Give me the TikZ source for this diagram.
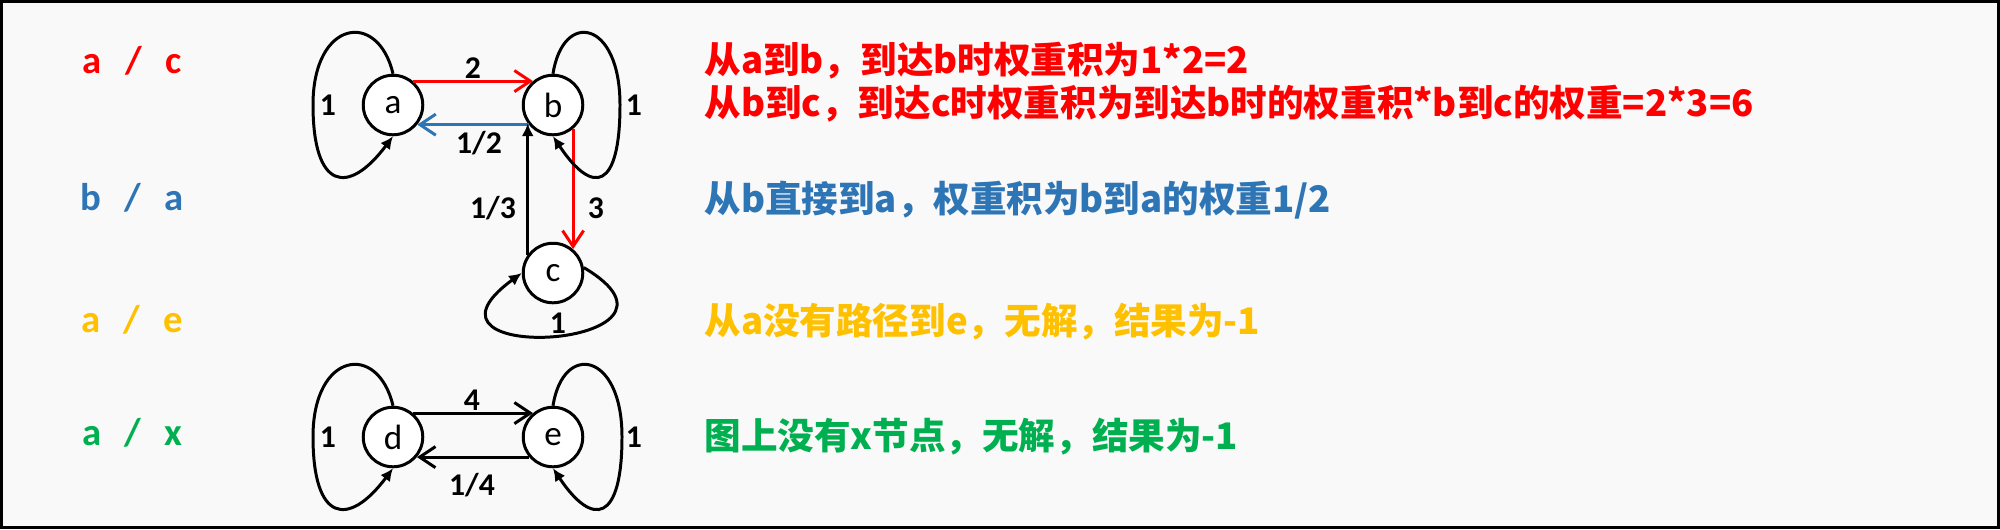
\documentclass[tikz,border=0pt]{standalone}
\usepackage{fontspec}
\setmainfont{Carlito}
\newfontfamily\cjk{Noto Sans CJK SC}
\usetikzlibrary{arrows.meta}
\definecolor{qred}{HTML}{FF0000}
\definecolor{qblue}{HTML}{2E75B6}
\definecolor{qyellow}{HTML}{FFC000}
\definecolor{qgreen}{HTML}{00B050}
\definecolor{bggray}{HTML}{F9F9F9}
\tikzset{
  vertex/.style={circle,draw,fill=white,minimum size=0.595cm,inner sep=0pt,font=\fontsize{10}{11}\selectfont},
  wt/.style={font=\bfseries\fontsize{9}{10}\selectfont,inner sep=0pt},
  query/.style={font=\bfseries\fontsize{11}{12}\selectfont,anchor=base,inner sep=0pt},
  note/.style={font=\cjk\bfseries\fontsize{10.4}{12}\selectfont,anchor=west,inner sep=0pt},
  barb/.style={-{Straight Barb[length=4.5pt,width=6pt]}},
  looptip/.style={-{Latex[length=3.6pt,width=3.4pt]}},
}
\newcommand{\qsep}{\hspace{0.6em}/\hspace{0.6em}}
\begin{document}
\begin{tikzpicture}[x=0.01cm,y=-0.01cm,line width=0.85pt]
\useasboundingbox (0,0) rectangle (2000,529);
\draw[fill=bggray,line width=0.85pt] (1.5,1.5) rectangle (1998.5,527.5);

\node[query,qred] (q1) at (132,73) {a\qsep c};
\node[query,qblue] (q2) at (132,210) {b\qsep a};
\node[query,qyellow] (q3) at (132,332) {a\qsep e};
\node[query,qgreen] (q4) at (132,445) {a\qsep x};

\node[vertex] (a) at (393,105) {a};
\node[vertex] (b) at (553,105) {b};
\node[vertex] (c) at (553,273) {c};
\node[vertex] (d) at (393,437) {d};
\node[vertex] (e) at (553,437) {e};

\draw[barb,qred] (a.50) -- (b.130);
\draw[barb,qblue] (b.-141) -- (a.-39);
\draw[barb,qred] (b.-50) -- (c.50);
\draw[looptip] (c.144) -- (b.-144);
\draw[barb] (d.50) -- (e.130);
\draw[barb] (e.-140) -- (d.-40);
\draw[looptip] (a.north) .. controls +(-15,-64) and +(0,-85) .. +(-80,31)
  .. controls +(0,85) and +(-45,60) .. (a.south);
\draw[looptip] (b.north) .. controls +(10,-64) and +(0,-85) .. +(67,31)
  .. controls +(0,85) and +(40,60) .. (b.south);
\draw[looptip] (c.10) .. controls +(135,80) and +(-130,95) .. (c.west);
\draw[looptip] (d.north) .. controls +(-15,-64) and +(0,-85) .. +(-80,31)
  .. controls +(0,85) and +(-45,60) .. (d.south);
\draw[looptip] (e.north) .. controls +(10,-64) and +(0,-85) .. +(69,31)
  .. controls +(0,85) and +(40,60) .. (e.south);

\node[wt] (w-ab) at (473,68) {2};
\node[wt] (w-ba) at (479,143) {1/2};
\node[wt] (w-bc) at (596,208) {3};
\node[wt] (w-cb) at (493,208) {1/3};
\node[wt] (w-aa) at (328,105) {1};
\node[wt] (w-bb) at (634,105) {1};
\node[wt] (w-cc) at (558,323) {1};
\node[wt] (w-de) at (472,400) {4};
\node[wt] (w-ed) at (472,485) {1/4};
\node[wt] (w-dd) at (328,437) {1};
\node[wt] (w-ee) at (634,437) {1};

\node[note,qred] (n1) at (703,61) {从a到b，到达b时权重积为1*2=2};
\node[note,qred] (n2) at (703,104) {从b到c，到达c时权重积为到达b时的权重积*b到c的权重=2*3=6};
\node[note,qblue] (n3) at (703,200) {从b直接到a，权重积为b到a的权重1/2};
\node[note,qyellow] (n4) at (703,322) {从a没有路径到e，无解，结果为-1};
\node[note,qgreen] (n5) at (703,437) {图上没有x节点，无解，结果为-1};
\end{tikzpicture}
\end{document}
